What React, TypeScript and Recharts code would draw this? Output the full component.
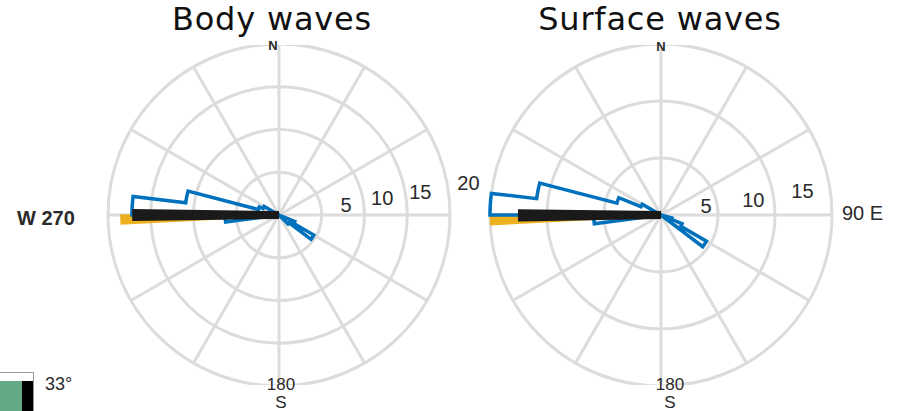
import React from 'react';
import { RadarChart, Radar, PolarGrid, PolarAngleAxis, PolarRadiusAxis } from 'recharts';

// angular bins are 7.5 deg wide (compass degrees, clockwise from N)
const BIN = 7.5;
const STEP = 0.25;
const spokes = [0, 30, 60, 90, 120, 150, 180, 210, 240, 270, 300, 330];

// Body waves
const bodyBlueStart = [112.5, 120, 127.5, 262.5, 270, 277.5, 285, 292.5];
const bodyBlueCount = [2.0, 4.7, 1.5, 6.3, 17.2, 11.0, 2.5, 2.0];
const bodyBlackStart = [269.2];
const bodyBlackEnd = [270.8];
const bodyBlackCount = [16.7];
const bodyOrangeStart = [267];
const bodyOrangeEnd = [270];
const bodyOrangeCount = [18.4];
const bodyTicks = [0, 5, 10, 15, 20];

// Surface waves
const surfBlueStart = [105, 112.5, 120, 262.5, 270, 277.5, 285, 292.5];
const surfBlueCount = [1.0, 2.0, 4.6, 5.9, 15.0, 11.0, 4.0, 1.9];
const surfBlackStart = [269];
const surfBlackEnd = [271];
const surfBlackCount = [12.2];
const surfOrangeStart = [267];
const surfOrangeEnd = [270];
const surfOrangeCount = [14.9];
const surfTicks = [0, 5, 10, 15];

function pick(a: number, starts: number[], ends: number[], counts: number[]) {
  for (let i = 0; i < starts.length; i++) {
    if (a >= starts[i] && a < ends[i]) return counts[i];
  }
  return 0;
}

function buildRows(blueStart: number[], blueCount: number[], blackStart: number[], blackEnd: number[], blackCount: number[], orStart: number[], orEnd: number[], orCount: number[]) {
  const blueEnd = blueStart.map((s) => s + BIN);
  const rows = [];
  for (let a = 0; a < 360; a += STEP) {
    rows.push({
      angle: a,
      blue: pick(a, blueStart, blueEnd, blueCount),
      black: pick(a, blackStart, blackEnd, blackCount),
      orange: pick(a, orStart, orEnd, orCount),
    });
  }
  return rows;
}

const bodyRows = buildRows(bodyBlueStart, bodyBlueCount, bodyBlackStart, bodyBlackEnd, bodyBlackCount, bodyOrangeStart, bodyOrangeEnd, bodyOrangeCount);
const surfRows = buildRows(surfBlueStart, surfBlueCount, surfBlackStart, surfBlackEnd, surfBlackCount, surfOrangeStart, surfOrangeEnd, surfOrangeCount);

const GRID = '#dcdcdc';
const label = { fontFamily: '"Liberation Sans", Arial, sans-serif', fill: '#2a2a2a' };

// per-tick label nudges, in px
const bodyNudge = [[0, 0], [25, -3], [19, -2], [15, -1], [21, -2]];
const surfNudge = [[0, 0], [-11, 1], [-20, 5], [-27, 6]];

const RTick = (nudge: number[][]) => (props: any) => {
  const { x, y, payload, index } = props;
  if (payload.value === 0) return <g />;
  const [dx, dy] = nudge[index] || [0, 0];
  return (
    <text x={x + dx} y={y + dy} textAnchor="middle" dominantBaseline="central" fontSize={20} {...label}>
      {payload.value}
    </text>
  );
};

function Rose({ rows, ticks, nudge }: { rows: any[]; ticks: number[]; nudge: number[][] }) {
  const max = ticks[ticks.length - 1];
  return (
    <RadarChart width={400} height={340} data={rows} cx={180} cy={170} outerRadius={171} margin={{ top: 0, right: 0, bottom: 0, left: 0 }}>
      <PolarGrid gridType="circle" stroke={GRID} strokeWidth={3} />
      <PolarAngleAxis dataKey="angle" type="number" domain={[0, 360]} ticks={spokes} tickCount={13} tick={false} axisLine={false} />
      <PolarRadiusAxis type="number" domain={[0, max]} ticks={ticks} tickCount={ticks.length} angle={10} axisLine={false} tickLine={false} tick={RTick(nudge)} />
      <Radar dataKey="orange" stroke="#EDB120" strokeWidth={3} fill="#EDB120" fillOpacity={1} isAnimationActive={false} dot={false} />
      <Radar dataKey="blue" stroke="#0072BD" strokeWidth={3.5} fill="none" fillOpacity={0} isAnimationActive={false} dot={false} />
      <Radar dataKey="black" stroke="#1a1a1a" strokeWidth={8} fill="#1a1a1a" fillOpacity={1} isAnimationActive={false} dot={false} />
    </RadarChart>
  );
}

export default function App() {
  return (
    <div style={{ position: 'absolute', left: 0, top: 0, width: 905, height: 411, background: '#fff', overflow: 'hidden' }}>
      <div style={{ position: 'absolute', left: 99, top: 45 }}>
        <Rose rows={bodyRows} ticks={bodyTicks} nudge={bodyNudge} />
      </div>
      <div style={{ position: 'absolute', left: 481, top: 45 }}>
        <Rose rows={surfRows} ticks={surfTicks} nudge={surfNudge} />
      </div>
      <svg width={905} height={411} style={{ position: 'absolute', left: 0, top: 0, pointerEvents: 'none' }}>
        <text x={272} y={30} textAnchor="middle" fontSize={32} letterSpacing={0.8} fontFamily='"DejaVu Sans", sans-serif' fill="#111">Body waves</text>
        <text x={660} y={30} textAnchor="middle" fontSize={32} letterSpacing={0.8} fontFamily='"DejaVu Sans", sans-serif' fill="#111">Surface waves</text>
        <text x={273} y={50} textAnchor="middle" fontSize={13} fontWeight="bold" {...label}>N</text>
        <text x={661} y={51} textAnchor="middle" fontSize={13} fontWeight="bold" {...label}>N</text>
        <text x={17} y={225} fontSize={20} fontWeight="bold" {...label}>W 270</text>
        <text x={842} y={220} fontSize={20} {...label}>90 E</text>
        <text x={281} y={390} textAnchor="middle" fontSize={17} {...label}>180</text>
        <text x={281} y={408} textAnchor="middle" fontSize={17} {...label}>S</text>
        <text x={670} y={390} textAnchor="middle" fontSize={17} {...label}>180</text>
        <text x={670} y={408} textAnchor="middle" fontSize={17} {...label}>S</text>
        <text x={45} y={390} fontSize={18} {...label}>33°</text>
      </svg>
      <div style={{ position: 'absolute', left: -1, top: 372, width: 33, height: 40, border: '1px solid #9a9a9a', background: '#fff' }}>
        <div style={{ position: 'absolute', left: 0, top: 8, width: 22, height: 32, background: '#63a983' }} />
        <div style={{ position: 'absolute', left: 22, top: 8, width: 11, height: 32, background: '#000' }} />
      </div>
    </div>
  );
}
